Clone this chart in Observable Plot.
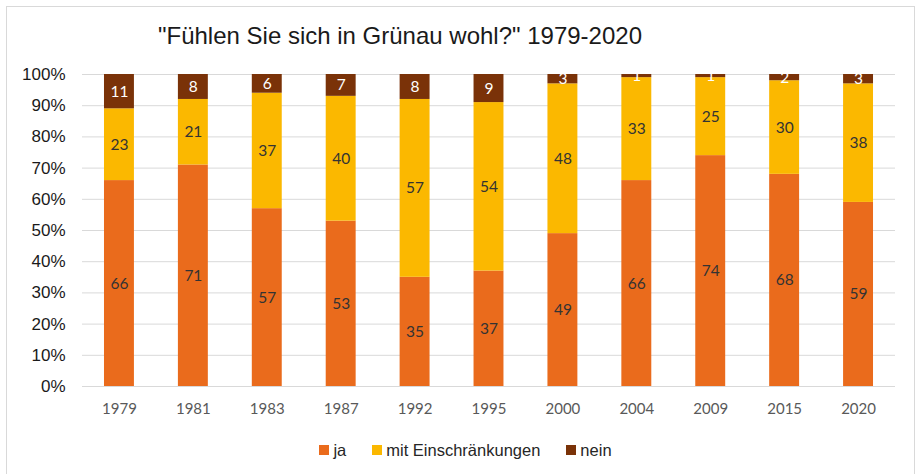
<!DOCTYPE html>
<html><head><meta charset="utf-8">
<script src="https://cdn.jsdelivr.net/npm/d3@7"></script>
<script src="https://cdn.jsdelivr.net/npm/@observablehq/plot@0.6"></script>
<style>
body{margin:0;background:#fff;}
#wrap{position:relative;width:921px;height:474px;overflow:hidden;}
#frame{position:absolute;left:6px;top:6px;width:909px;height:475px;border:1px solid #d9d9d9;box-sizing:border-box;pointer-events:none;}
#title{height:60px;box-sizing:border-box;padding-top:22px;width:800px;text-align:center;font-family:"Liberation Sans",Arial,sans-serif;font-size:24px;color:#1a1a1a;}
#legend{display:flex;justify-content:center;align-items:center;gap:26px;height:48px;font-family:"Liberation Sans",Arial,sans-serif;font-size:16.5px;color:#262626;padding-left:10px;}
#legend span.sw{display:inline-block;width:10px;height:10px;margin-right:4px;vertical-align:middle;position:relative;top:-1px;}
</style></head>
<body><div id="wrap"><div id="frame"></div><div id="title">"Fühlen Sie sich in Grünau wohl?" 1979-2020</div><div id="chart"></div><div id="legend"></div></div>
<script>
const years = ["1979","1981","1983","1987","1992","1995","2000","2004","2009","2015","2020"];
const categories = ["ja","mit Einschränkungen","nein"];
const ja = [66,71,57,53,35,37,49,66,74,68,59];
const mit = [23,21,37,40,57,54,48,33,25,30,38];
const nein = [11,8,6,7,8,9,3,1,1,2,3];
const colors = ["#EA6B1C","#FBB800","#7A3208"];
const labelColors = ["#333333","#333333","#ffffff"];
const yTicks = [0,10,20,30,40,50,60,70,80,90,100];

const series = [ja, mit, nein];
const data = [];
years.forEach((y,i)=>categories.forEach((c,k)=>data.push({year:y,cat:c,value:series[k][i]})));

const chart = Plot.plot({
  width: 921, height: 366,
  marginLeft: 82, marginRight: 26, marginTop: 14, marginBottom: 40,
  style: {fontFamily: "Lato, 'Open Sans', sans-serif", fontSize: "16px", color: "#595959", background: "transparent"},
  x: {domain: years, paddingInner: 0.595, paddingOuter: 0.2975, round: false, label: null, tickSize: 0, tickPadding: 16},
  y: {domain: [0,100], ticks: yTicks, tickFormat: d => d + "%", label: null, tickSize: 0, tickPadding: 17},
  color: {domain: categories, range: colors},
  marks: [
    Plot.gridY(yTicks, {stroke: "#d9d9d9", strokeOpacity: 1, strokeWidth: 1}),
    Plot.axisY({ticks: yTicks, tickFormat: d => d + "%", tickSize: 0, tickPadding: 17, label: null, fill: "#1a1a1a", fontFamily: "'Liberation Sans', Arial, sans-serif", fontSize: 17}),
    Plot.axisX({tickSize: 0, tickPadding: 17, label: null, fill: "#595959", fontSize: 15}),
    Plot.barY(data, Plot.stackY({x: "year", y: "value", fill: "cat", order: categories})),
    Plot.text(data, Plot.stackY({x: "year", y: "value", order: categories, text: d => String(d.value),
      fill: d => labelColors[categories.indexOf(d.cat)], fontSize: 15.5, fontFamily: "Lato, 'Open Sans', sans-serif"}))
  ]
});
document.getElementById("chart").appendChild(chart);

const leg = document.getElementById("legend");
categories.forEach((c,k)=>{
  const item = document.createElement("div");
  item.innerHTML = `<span class="sw" style="background:${colors[k]}"></span>${c}`;
  leg.appendChild(item);
});
</script></body></html>
